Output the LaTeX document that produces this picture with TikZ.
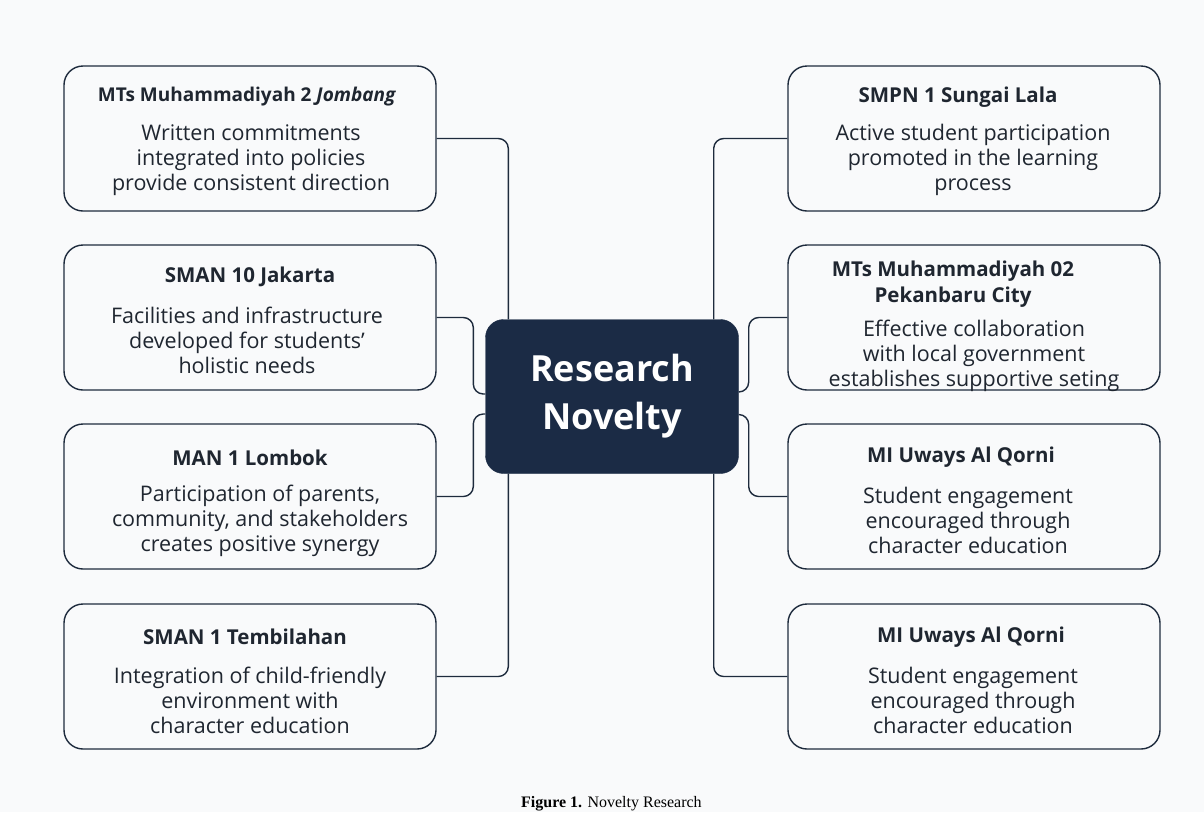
\documentclass[tikz,border=0pt]{standalone}
\usepackage{fontspec}
\setmainfont{Open Sans}
\newfontfamily\capfont{Liberation Serif}
\usetikzlibrary{calc}
\definecolor{bgc}{HTML}{F9FAFB}
\definecolor{navy}{HTML}{1E2B3D}
\definecolor{cfill}{HTML}{1B2B45}
\definecolor{txt}{HTML}{1F2630}
\tikzset{
  box/.style={draw=navy, line width=1.4pt, rounded corners=19pt, fill=bgc,
    minimum width=372pt, minimum height=145pt, inner sep=0pt},
  head/.style={font=\fontsize{20.5}{26}\selectfont\bfseries, text=txt, align=center, inner sep=0pt},
  body/.style={font=\fontsize{21.5}{25}\selectfont, text=txt, align=center, inner sep=0pt},
  conn/.style={draw=navy, line width=1.4pt, rounded corners=10pt},
  centre/.style={fill=cfill, draw=cfill, rounded corners=18pt, minimum width=253pt,
    minimum height=154pt, text=white, align=center,
    font=\fontsize{36}{48}\selectfont\bfseries}
}
\begin{document}
\begin{tikzpicture}[x=1pt,y=-1pt]
\fill[bgc] (0,0) rectangle (1204,812);
\useasboundingbox (0,0) rectangle (1204,812);

% centre
\node[centre] (C) at (612,396.5) {Research\\Novelty};

% left boxes
\node[box] (L1) at (250,138.5) {};
\node[box] (L2) at (250,317.5) {};
\node[box] (L3) at (250,496.5) {};
\node[box] (L4) at (250,676.5) {};
% right boxes
\node[box] (R1) at (974,138.5) {};
\node[box] (R2) at (974,317.5) {};
\node[box] (R3) at (974,496.5) {};
\node[box] (R4) at (974,676.5) {};

% texts left
\node[head, font=\fontsize{19}{26}\selectfont\bfseries] (L1h) at (247,97) {MTs Muhammadiyah 2 \textit{Jombang}};
\node[body] (L1b) at (251,160) {Written commitments\\integrated into policies\\provide consistent direction};
\node[head] (L2h) at (250,277) {SMAN 10 Jakarta};
\node[body] (L2b) at (247,340) {Facilities and infrastructure\\developed for students'\\holistic needs};
\node[head] (L3h) at (250,458) {MAN 1 Lombok};
\node[body] (L3b) at (260,521) {Participation of parents,\\community, and stakeholders\\creates positive synergy};
\node[head] (L4h) at (245,637) {SMAN 1 Tembilahan};
\node[body] (L4b) at (250,700) {Integration of child-friendly\\environment with\\character education};

% texts right
\node[head] (R1h) at (958,97) {SMPN 1 Sungai Lala};
\node[body] (R1b) at (973,160) {Active student participation\\promoted in the learning\\process};
\node[head] (R2h) at (953,284) {MTs Muhammadiyah 02\\Pekanbaru City};
\node[body] (R2b) at (974,356) {Effective collaboration\\with local government\\establishes supportive seting};
\node[head] (R3h) at (961,457) {MI Uways Al Qorni};
\node[body] (R3b) at (968,520) {Student engagement\\encouraged through\\character education};
\node[head] (R4h) at (971,637) {MI Uways Al Qorni};
\node[body] (R4b) at (973,700) {Student engagement\\encouraged through\\character education};

% connectors left
\draw[conn] (L1.east) -| ([xshift=23pt]C.north west);
\draw[conn] (L4.east) -| ([xshift=23pt]C.south west);
\draw[conn] (L2.east) -| ([xshift=-12pt,yshift=2.5pt]C.west) -- ([yshift=2.5pt]C.west);
\draw[conn] ([yshift=-17.5pt]C.west) -- ([xshift=-12pt,yshift=-17.5pt]C.west) |- (L3.east);
% connectors right
\draw[conn] (R1.west) -| ([xshift=-25pt]C.north east);
\draw[conn] (R4.west) -| ([xshift=-25pt]C.south east);
\draw[conn] (R2.west) -| ([xshift=10pt,yshift=4.5pt]C.east) -- ([yshift=4.5pt]C.east);
\draw[conn] ([yshift=-18pt]C.east) -- ([xshift=10pt,yshift=-18pt]C.east) |- (R3.west);

% caption
\node[anchor=base west, inner sep=0pt, font=\capfont\fontsize{16}{18}\selectfont] (cap) at (521,807) {\textbf{Figure 1.} Novelty Research};
\end{tikzpicture}
\end{document}
